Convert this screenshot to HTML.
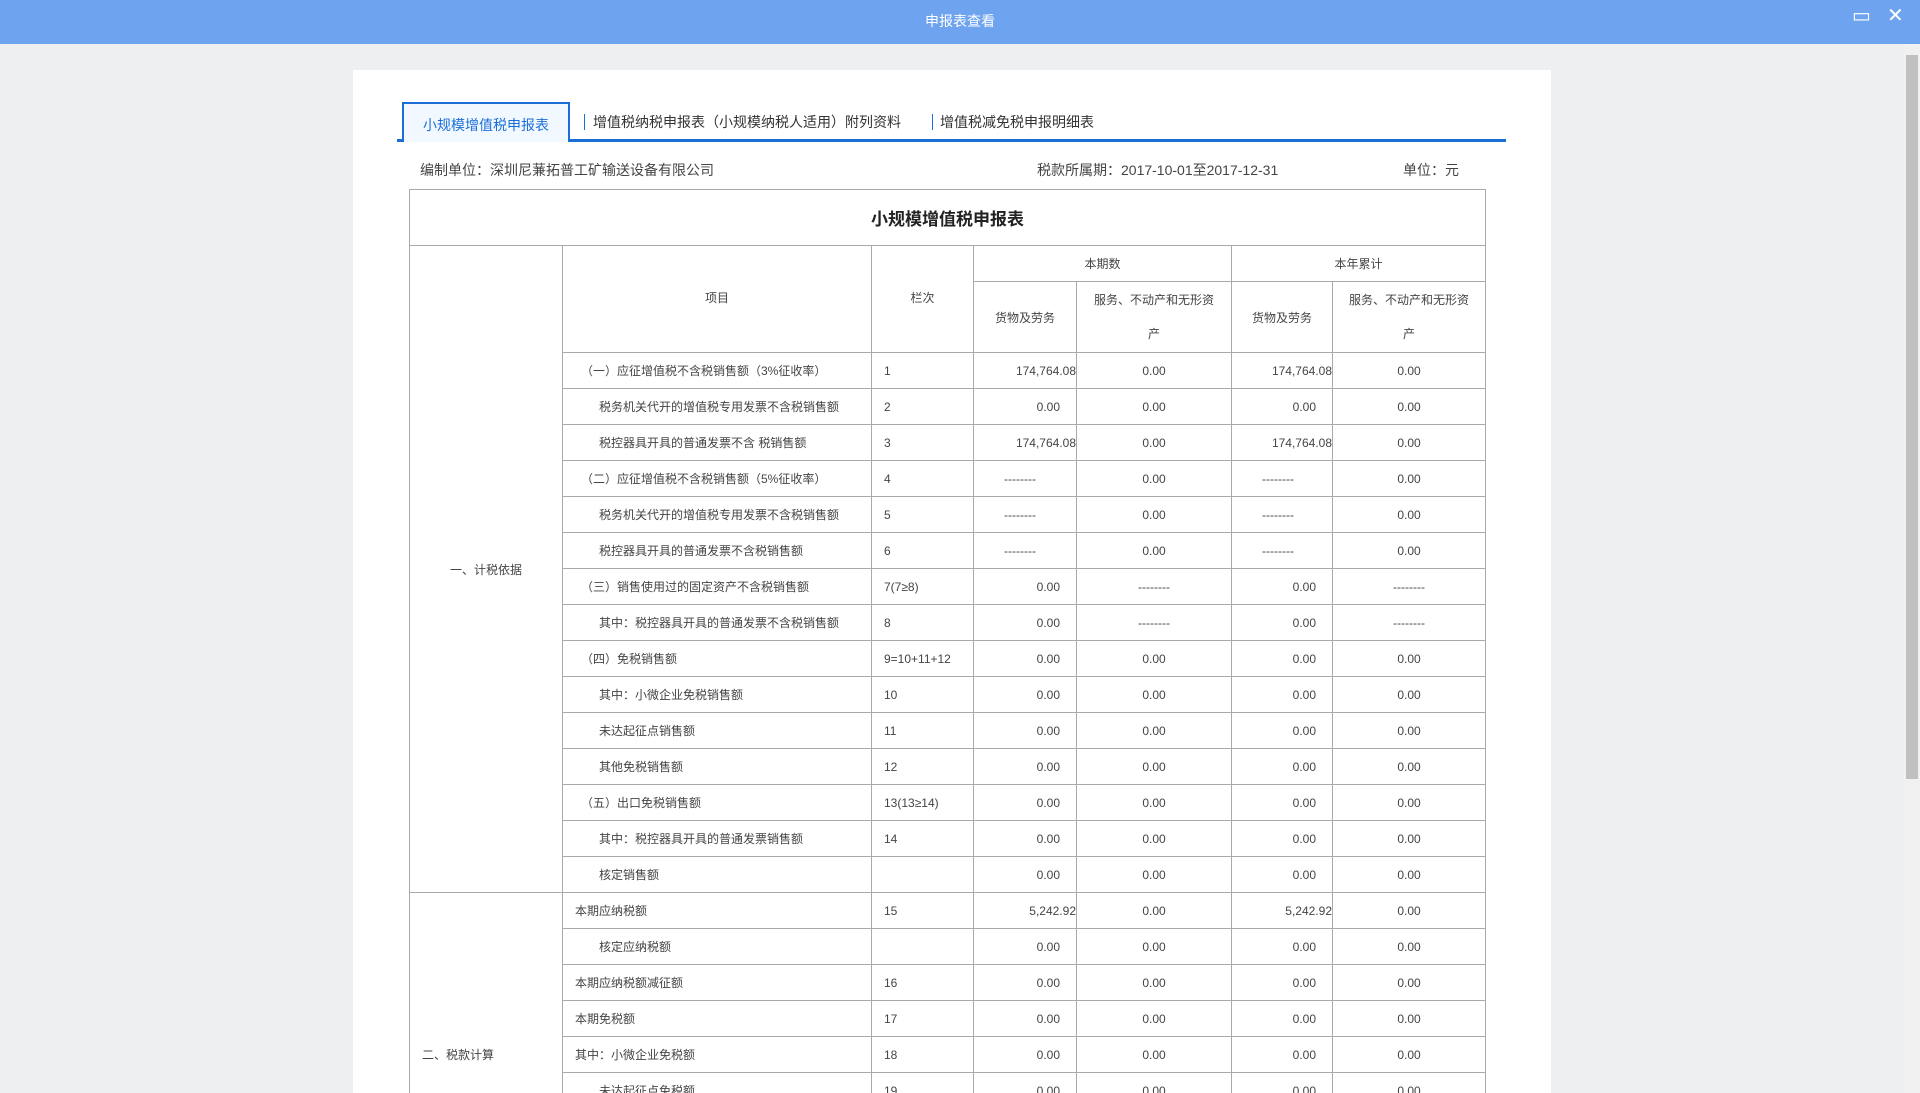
<!DOCTYPE html>
<html><head><meta charset="utf-8"><style>
*{box-sizing:border-box;margin:0;padding:0}
html,body{width:1920px;height:1093px;overflow:hidden}
body{background:#eeeff1;font-family:"Liberation Sans","Noto Sans CJK SC",sans-serif;color:#333}
#root{position:relative;width:1920px;height:1093px;overflow:hidden}
#topbar{position:absolute;left:0;top:0;width:1920px;height:44px;background:#6ea4ef;color:#fff;font-size:14px;text-align:center;line-height:42px}
.winbtn{position:absolute;top:6px;color:#fff;font-size:20px;line-height:20px}
#panel{position:absolute;left:353px;top:70px;width:1198px;height:1023px;background:#fff}
#scroll{position:absolute;left:1904px;top:44px;width:16px;height:1049px;background:#f1f1f1}
#thumb{position:absolute;left:2px;top:11px;width:12px;height:724px;background:#c1c1c1}
#tabs{position:absolute;left:397px;top:102px;width:1109px;height:40px;border-bottom:3px solid #1a6fd6}
.tab{position:absolute;top:0;height:40px;font-size:14px;line-height:40px;color:#333}
#tab1{left:5px;width:168px;border:2px solid #1a6fd6;border-bottom:none;background:#f2f8ff;color:#1a6fd6;text-align:center;line-height:42px}
.sep{position:absolute;top:12px;width:1px;height:16px;background:#1a6fd6}
.info{position:absolute;top:160px;font-size:14px;color:#444}
#tblwrap{position:absolute;left:0;top:0;width:1920px;height:1093px;overflow:hidden}
table{position:absolute;left:409px;top:189px;border-collapse:collapse;table-layout:fixed;font-size:12px;color:#444}
td{border:1px solid #aaa;height:36px;padding:0;white-space:nowrap}
.ttl{height:56px;text-align:center;font-size:17px;font-weight:bold;color:#222}
.c{text-align:center}
.r{text-align:right;padding-right:16px}
.rl{text-align:right;padding-right:0}
.dl{padding-left:30px}
.i1{padding-left:18px}.i2{padding-left:36px}.i0{padding-left:12px}
.lane{padding-left:12px}
</style></head><body><div id="root">
<div id="topbar">申报表查看
<span class="winbtn" style="left:1852px">▭</span>
<span class="winbtn" style="left:1887px">✕</span></div>
<div id="scroll"><div id="thumb"></div></div>
<div id="panel"></div>
<div id="tabs">
<div class="tab" id="tab1">小规模增值税申报表</div>
<div class="sep" style="left:187px"></div>
<div class="tab" style="left:196px">增值税纳税申报表（小规模纳税人适用）附列资料</div>
<div class="sep" style="left:535px"></div>
<div class="tab" style="left:543px">增值税减免税申报明细表</div>
</div>
<div class="info" style="left:420px">编制单位：深圳尼蒹拓普工矿输送设备有限公司</div>
<div class="info" style="left:1037px">税款所属期：2017-10-01至2017-12-31</div>
<div class="info" style="left:1403px">单位：元</div>
<div id="tblwrap">
<table id="tbl">
<colgroup><col style="width:153px"><col style="width:309px"><col style="width:102px"><col style="width:103px"><col style="width:155px"><col style="width:101px"><col style="width:153px"></colgroup>
<tbody id="tb">
<tr><td colspan="7" class="ttl">小规模增值税申报表</td></tr>
<tr><td rowspan="17" class="c">一、计税依据</td>
<td rowspan="2" class="c" style="padding-bottom:4px">项目</td>
<td rowspan="2" class="c" style="padding-bottom:4px">栏次</td>
<td colspan="2" class="c">本期数</td><td colspan="2" class="c">本年累计</td></tr>
<tr><td class="c" style="height:71px">货物及劳务</td><td class="c" style="line-height:34px">服务、不动产和无形资<br>产</td><td class="c">货物及劳务</td><td class="c" style="line-height:34px">服务、不动产和无形资<br>产</td></tr>
</tbody>
</table>
</div>
</div>
<script>
const items=["（一）应征增值税不含税销售额（3%征收率）","税务机关代开的增值税专用发票不含税销售额","税控器具开具的普通发票不含 税销售额","（二）应征增值税不含税销售额（5%征收率）","税务机关代开的增值税专用发票不含税销售额","税控器具开具的普通发票不含税销售额","（三）销售使用过的固定资产不含税销售额","其中：税控器具开具的普通发票不含税销售额","（四）免税销售额","其中：小微企业免税销售额","未达起征点销售额","其他免税销售额","（五）出口免税销售额","其中：税控器具开具的普通发票销售额","核定销售额","本期应纳税额","核定应纳税额","本期应纳税额减征额","本期免税额","其中：小微企业免税额","未达起征点免税额","应纳税额合计","本期预缴税额","本期应补（退）税额"];
const indents=[1,2,2,1,2,2,1,2,1,2,2,2,1,2,2,0,2,0,0,0,2,0,0,0];
const lanes=["1","2","3","4","5","6","7(7≥8)","8","9=10+11+12","10","11","12","13(13≥14)","14","","15","","16","17","18","19","20","21","22"];
const D="--------";
const goodsCur=["174,764.08","0.00","174,764.08",D,D,D,"0.00","0.00","0.00","0.00","0.00","0.00","0.00","0.00","0.00","5,242.92","0.00","0.00","0.00","0.00","0.00","0.00","0.00","0.00"];
const servCur=["0.00","0.00","0.00","0.00","0.00","0.00",D,D,"0.00","0.00","0.00","0.00","0.00","0.00","0.00","0.00","0.00","0.00","0.00","0.00","0.00","0.00","0.00","0.00"];
const goodsYear=["174,764.08","0.00","174,764.08",D,D,D,"0.00","0.00","0.00","0.00","0.00","0.00","0.00","0.00","0.00","5,242.92","0.00","0.00","0.00","0.00","0.00","0.00","0.00","0.00"];
const servYear=["0.00","0.00","0.00","0.00","0.00","0.00",D,D,"0.00","0.00","0.00","0.00","0.00","0.00","0.00","0.00","0.00","0.00","0.00","0.00","0.00","0.00","0.00","0.00"];
const tb=document.getElementById('tb');
function numCell(tr,v){const td=document.createElement('td');td.textContent=v;
td.className=v===D?'dl':(v.length>6?'rl':'r');


tr.appendChild(td);}
function ctrCell(tr,v){const td=document.createElement('td');td.textContent=v;td.className='c';


tr.appendChild(td);}
items.forEach((it,i)=>{
 const tr=document.createElement('tr');
 
 
 if(i===15){const s=document.createElement('td');s.rowSpan=9;s.className='lane';s.textContent='二、税款计算';
 
 
 tr.appendChild(s);}
 const a=document.createElement('td');a.textContent=it;a.className='i'+indents[i];
 
 
 tr.appendChild(a);
 const b=document.createElement('td');b.textContent=lanes[i];b.className='lane';
 
 
 tr.appendChild(b);
 numCell(tr,goodsCur[i]);ctrCell(tr,servCur[i]);numCell(tr,goodsYear[i]);ctrCell(tr,servYear[i]);
 tb.appendChild(tr);
});
</script>
</body></html>
